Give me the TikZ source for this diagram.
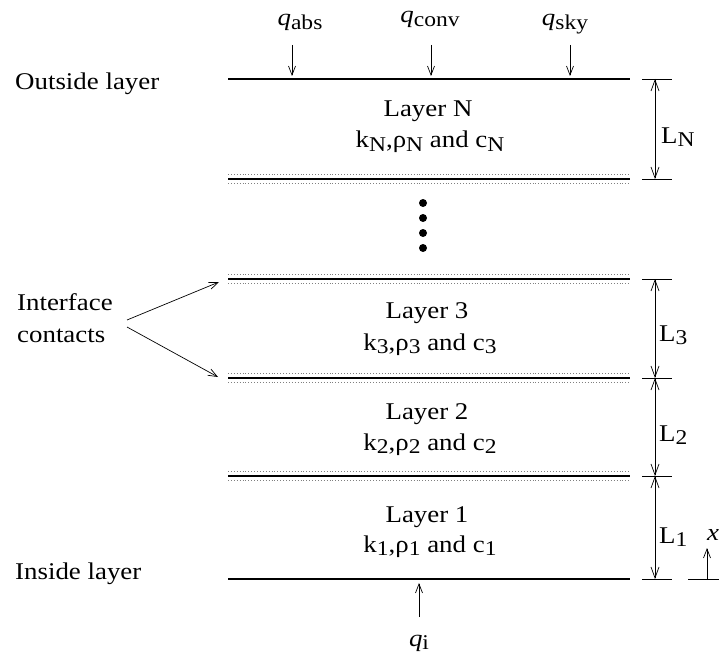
\documentclass[tikz,border=0pt]{standalone}
\usepackage{fontspec}
\setmainfont{Liberation Serif}[FakeStretch=1.12]
\usetikzlibrary{arrows.meta}
\begin{document}
\begin{tikzpicture}[x=1pt,y=-1pt,
  txt/.style={inner sep=0pt,anchor=base,font=\fontsize{24}{28}\selectfont},
  plate/.style={line width=2pt},
  arr/.style={-{Straight Barb[length=9pt,width=7pt]},line width=0.7pt},
  dim/.style={{Straight Barb[length=11pt,width=8pt]}-{Straight Barb[length=11pt,width=8pt]},line width=0.7pt},
  tick/.style={line width=0.8pt}]
\useasboundingbox (0,0) rectangle (719,663);
\newcommand{\sbx}[1]{\raisebox{-0.3ex}{\fontsize{21}{22}\selectfont #1}}
% plates
\draw[plate] (228,79) -- (630,79);
\draw[plate] (228,579) -- (630,579);
\foreach \y in {179,279,378,476}{
  \draw[line width=2.2pt] (228,\y) -- (630,\y);
  \draw[dotted,gray,line width=0.9pt] (228,\y-4.5) -- (630,\y-4.5);
  \draw[dotted,gray,line width=0.9pt] (228,\y+4.5) -- (630,\y+4.5);
}
% dots
\foreach \y in {203,218,233,248}{\fill (423,\y) circle (4pt);}
% layer labels
\node[txt] (lnA) at (428,117) {Layer N};
\node[txt] (lnB) at (430,148) {k\sbx{N},ρ\sbx{N} and c\sbx{N}};
\node[txt] (l3A) at (427,318) {Layer 3};
\node[txt] (l3B) at (430,350) {k\sbx{3},ρ\sbx{3} and c\sbx{3}};
\node[txt] (l2A) at (427,419) {Layer 2};
\node[txt] (l2B) at (430,450) {k\sbx{2},ρ\sbx{2} and c\sbx{2}};
\node[txt] (l1A) at (427,522) {Layer 1};
\node[txt] (l1B) at (430,552) {k\sbx{1},ρ\sbx{1} and c\sbx{1}};
% heat flux labels
\node[txt] (qabs) at (300,26) {\textit{q}\sbx{abs}};
\node[txt] (qconv) at (430,23) {\textit{q}\sbx{conv}};
\node[txt] (qsky) at (565,26) {\textit{q}\sbx{sky}};
\node[txt] (qi) at (419,646) {\textit{q}\sbx{i}};
\coordinate (pabs) at (292,76);
\coordinate (pconv) at (431,76);
\coordinate (psky) at (570,76);
\coordinate (pi) at (419,583);
\coordinate (sabs) at (292,45);
\coordinate (sconv) at (431,45);
\coordinate (ssky) at (570,45);
\coordinate (si) at (419,617);
\draw[arr] (sabs) -- (pabs);
\draw[arr] (sconv) -- (pconv);
\draw[arr] (ssky) -- (psky);
\draw[arr] (si) -- (pi);
% side labels
\node[txt,anchor=base west] (out) at (15,90) {Outside layer};
\node[txt,anchor=base west] (ins) at (15,579) {Inside layer};
\node[txt,anchor=base west] (ifa) at (17,310) {Interface};
\node[txt,anchor=base west] (ifb) at (17,342) {contacts};
\coordinate (ia) at (219,282);
\coordinate (ib) at (218,377);
\draw[arr] (127,320) -- (ia);
\draw[arr] (127,327) -- (ib);
% dimensions
\foreach \y in {79,179,279,378,476,579}{\draw[tick] (642,\y) -- (672,\y);}
\coordinate (d1) at (655,79);
\coordinate (d2) at (655,179);
\coordinate (d3) at (655,279);
\coordinate (d4) at (655,378);
\coordinate (d5) at (655,476);
\coordinate (d6) at (655,579);
\draw[dim] (d1) -- (d2);
\draw[dim] (d3) -- (d4);
\draw[dim] (d4) -- (d5);
\draw[dim] (d5) -- (d6);
\node[txt,anchor=base west] (LN) at (661,143) {L\sbx{N}};
\node[txt,anchor=base west] (L3) at (659,341) {L\sbx{3}};
\node[txt,anchor=base west] (L2) at (659,441) {L\sbx{2}};
\node[txt,anchor=base west] (L1) at (659,543) {L\sbx{1}};
% x axis
\draw[tick] (688,579) -- (719,579);
\coordinate (xa) at (707,579);
\coordinate (xb) at (707,548);
\draw[arr] (xa) -- (xb);
\node[txt,anchor=base west] (xl) at (707,540) {\textit{x}};
\end{tikzpicture}
\end{document}
